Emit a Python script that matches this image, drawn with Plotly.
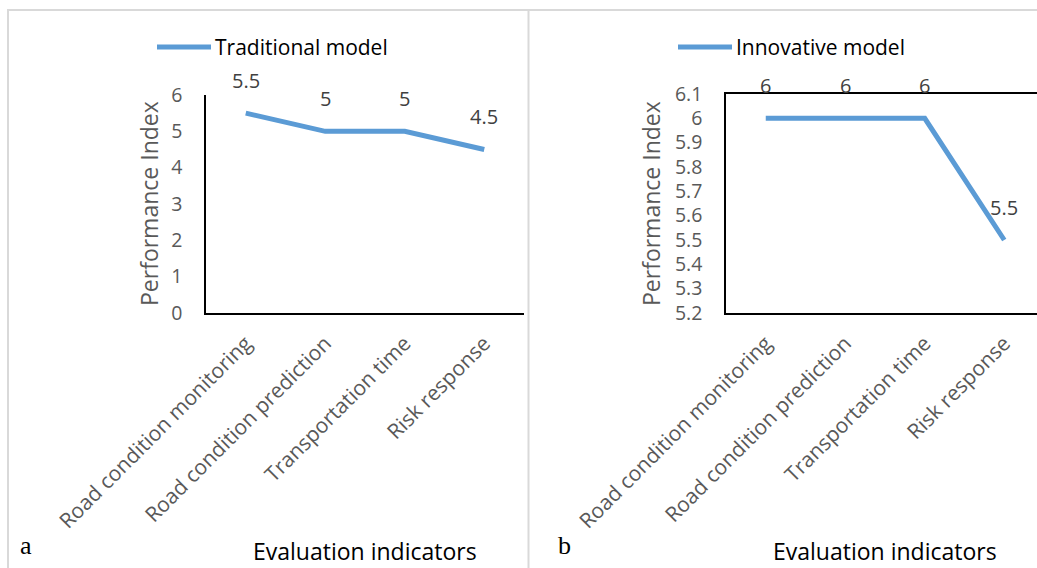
import plotly.graph_objects as go

# Evaluation indicators and performance index of each model
indicators = [
    "Road condition monitoring",
    "Road condition prediction",
    "Transportation time",
    "Risk response",
]
traditional = [5.5, 5, 5, 4.5]
innovative = [6, 6, 6, 5.5]

# Y-axis ticks of both panels
ticks_a = [0, 1, 2, 3, 4, 5, 6]
ticks_b = [5.2, 5.3, 5.4, 5.5, 5.6, 5.7, 5.8, 5.9, 6.0, 6.1]

W, H = 1037, 568
LINE_COLOR = "#5B9BD5"
FONT = "Open Sans"
TICK_GRAY = "#595959"
LABEL_GRAY = "#404040"


def px(x):
    return x / W


def py(y):
    return 1 - y / H


fig = go.Figure()

fig.add_trace(go.Scatter(
    x=indicators, y=traditional, mode="lines", name="Traditional model",
    line=dict(color=LINE_COLOR, width=5), xaxis="x", yaxis="y",
    showlegend=False, hoverinfo="skip",
))
fig.add_trace(go.Scatter(
    x=indicators, y=innovative, mode="lines", name="Innovative model",
    line=dict(color=LINE_COLOR, width=5), xaxis="x2", yaxis="y2",
    showlegend=False, hoverinfo="skip",
))

unit = 79.5  # pixels per category step

common_x = dict(
    type="category", showline=True, linecolor="black", linewidth=1.5,
    showgrid=False, zeroline=False, tickangle=-45,
    tickfont=dict(family=FONT, size=21, color=TICK_GRAY),
    ticks="", ticklabelstandoff=8, automargin=False,
)
common_y = dict(
    showline=True, linecolor="black", linewidth=1.5, showgrid=False,
    zeroline=False, tickfont=dict(family=FONT, size=19.5, color=TICK_GRAY),
    ticks="", ticklabelstandoff=18, automargin=False,
)

fig.update_layout(
    width=W, height=H, autosize=False,
    margin=dict(l=0, r=0, t=0, b=0, pad=0, autoexpand=False),
    paper_bgcolor="white", plot_bgcolor="white",
    showlegend=False,
    xaxis=dict(common_x, domain=[px(206), px(524)], range=[-0.5, 3.5], anchor="y"),
    yaxis=dict(common_y, domain=[py(313), py(95)], range=[0, 6], anchor="x",
               tickvals=ticks_a, ticktext=[f"{v:g}" for v in ticks_a]),
    xaxis2=dict(common_x, domain=[px(726), 1.0],
                range=[-0.5, -0.5 + (W - 726) / unit], anchor="y2", mirror=True),
    yaxis2=dict(common_y, domain=[py(313), py(94)], range=[5.2, 6.1], anchor="x2",
                tickvals=ticks_b, ticktext=[f"{v:g}" for v in ticks_b]),
)

annotations = []
# value labels above each point
for xa, ya, series in (("x", "y", traditional), ("x2", "y2", innovative)):
    for cat, val in zip(indicators, series):
        annotations.append(dict(
            x=cat, y=val, xref=xa, yref=ya, text=f"{val:g}", showarrow=False,
            xanchor="center", yanchor="middle",
            yshift=33, font=dict(family=FONT, size=20, color=LABEL_GRAY),
        ))


def paper_text(x, y, text, size, color, family=FONT, angle=0, xanchor="center"):
    return dict(
        x=px(x), y=py(y), xref="paper", yref="paper", text=text,
        textangle=angle, showarrow=False, xanchor=xanchor, yanchor="middle",
        font=dict(family=family, size=size, color=color),
    )


# axis titles
for xc in (149, 651):
    annotations.append(paper_text(xc, 204, "Performance Index", 23, TICK_GRAY, angle=-90))
for xc in (365, 885):
    annotations.append(paper_text(xc, 551, "Evaluation indicators", 23, "black"))

# panel letters
annotations.append(paper_text(26, 545, "a", 26, "black", family="Liberation Serif"))
annotations.append(paper_text(564, 545, "b", 26, "black", family="Liberation Serif"))

shapes = []
# legends: line sample plus series name
for x0, x1, name in ((157, 211, "Traditional model"), (678, 732, "Innovative model")):
    shapes.append(dict(type="line", xref="paper", yref="paper",
                       x0=px(x0), x1=px(x1), y0=py(47), y1=py(47),
                       line=dict(color=LINE_COLOR, width=5)))
    annotations.append(paper_text(x1 + 2, 47, name, 21, "black", xanchor="left"))

# outer frame and panel divider
frame = dict(color="#D9D9D9", width=2)
shapes.append(dict(type="line", xref="paper", yref="paper",
                   x0=px(7), x1=1, y0=py(10), y1=py(10), line=frame))
shapes.append(dict(type="line", xref="paper", yref="paper",
                   x0=px(8), x1=px(8), y0=py(10), y1=0, line=frame))
shapes.append(dict(type="line", xref="paper", yref="paper",
                   x0=px(528.5), x1=px(528.5), y0=py(10), y1=0, line=frame))

fig.update_layout(annotations=annotations, shapes=shapes)

fig.write_html("out.html")
